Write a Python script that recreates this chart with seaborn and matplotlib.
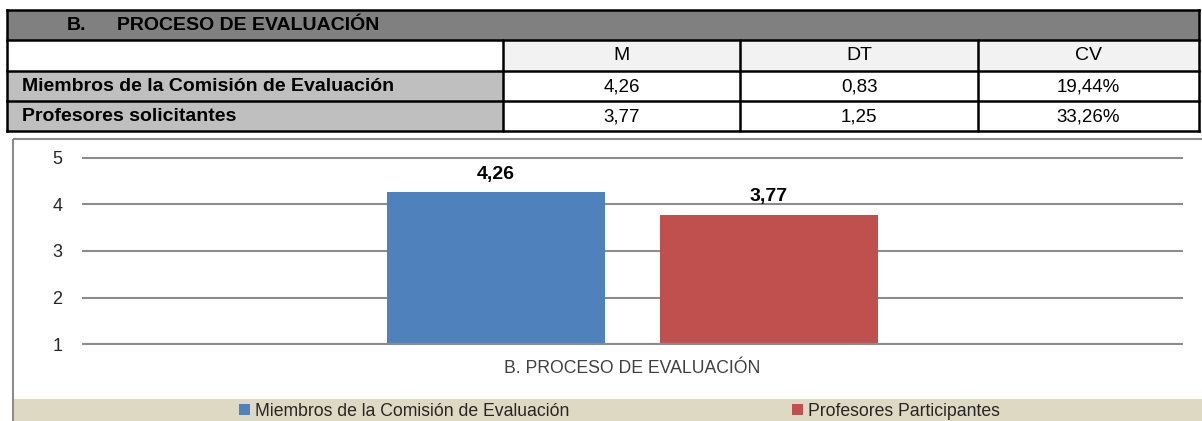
import matplotlib
matplotlib.use("Agg")
import matplotlib.pyplot as plt
from matplotlib import font_manager
from matplotlib.patches import Rectangle
import seaborn as sns
import pandas as pd

# ---------------- data ----------------
category = ["B. PROCESO DE EVALUACIÓN"]
series = ["Miembros de la Comisión de Evaluación", "Profesores Participantes"]
mean_vals = [4.26, 3.77]
y_ticks = [1, 2, 3, 4, 5]

table_title_letter = "B."
table_title = "PROCESO DE EVALUACIÓN"
table_cols = ["M", "DT", "CV"]
table_rows = ["Miembros de la Comisión de Evaluación", "Profesores solicitantes"]
table_M = [4.26, 3.77]
table_DT = [0.83, 1.25]
table_CV = [19.44, 33.26]

BLUE, RED = "#4f81bd", "#c0504d"
GRID = "#8c8c8c"

sns.set_theme(style="white")
names = {f.name for f in font_manager.fontManager.ttflist}
narrow = "Liberation Sans Narrow" if "Liberation Sans Narrow" in names else "Liberation Sans"
plt.rcParams["font.family"] = [narrow, "DejaVu Sans"]

W, H = 1202, 421
fig = plt.figure(figsize=(W / 100, H / 100), dpi=100)
fig.patch.set_facecolor("white")

bg = fig.add_axes([0, 0, 1, 1])
bg.set_xlim(0, W)
bg.set_ylim(H, 0)
bg.axis("off")


def fx(px):
    return px / W


def fy(py):
    return 1 - py / H


def fmt(v, dec=2):
    return f"{v:.{dec}f}".replace(".", ",")


# ---------------- table ----------------
xs = [7, 503, 740, 978, 1199]
ys = [10, 40, 71, 101, 131]
bg.add_patch(Rectangle((xs[0], ys[0]), xs[-1] - xs[0], ys[1] - ys[0], fc="#808080", ec="none"))
for j in range(1, 4):
    bg.add_patch(Rectangle((xs[j], ys[1]), xs[j + 1] - xs[j], ys[2] - ys[1], fc="#f2f2f2", ec="none"))
for i in range(2):
    bg.add_patch(Rectangle((xs[0], ys[2 + i]), xs[1] - xs[0], ys[3 + i] - ys[2 + i], fc="#bfbfbf", ec="none"))
for y in ys:
    bg.plot([xs[0], xs[-1]], [y, y], color="black", lw=1.8, solid_capstyle="projecting")
for x in (xs[0], xs[-1]):
    bg.plot([x, x], [ys[0], ys[-1]], color="black", lw=1.8, solid_capstyle="projecting")
for x in xs[1:-1]:
    bg.plot([x, x], [ys[1], ys[-1]], color="black", lw=1.8)

hy = (ys[0] + ys[1]) / 2 + 0.5
bg.text(67, hy, table_title_letter, fontsize=14, fontweight="bold", va="center", ha="left", color="black")
bg.text(117, hy, table_title, fontsize=14, fontweight="bold", va="center", ha="left", color="black")
cy = (ys[1] + ys[2]) / 2 + 0.5
for j, c in enumerate(table_cols):
    bg.text((xs[j + 1] + xs[j + 2]) / 2, cy, c, fontsize=14, va="center", ha="center", color="black")
for i, r in enumerate(table_rows):
    ry = (ys[2 + i] + ys[3 + i]) / 2 + 0.5
    bg.text(22, ry, r, fontsize=14, fontweight="bold", va="center", ha="left", color="black")
    vals = [fmt(table_M[i]), fmt(table_DT[i]), fmt(table_CV[i]) + "%"]
    for j, v in enumerate(vals):
        bg.text((xs[j + 1] + xs[j + 2]) / 2, ry, v, fontsize=13.5, va="center", ha="center", color="black")

# ---------------- chart frame & legend band ----------------
bg.add_patch(Rectangle((14, 399), 1250, 40, fc="#ddd9c3", ec="none", zorder=1))
bg.add_patch(Rectangle((13, 139), 1250, 400, fill=False, ec=GRID, lw=1.5, zorder=2, clip_on=False))

# ---------------- bar chart ----------------
ax = fig.add_axes([fx(82), fy(345), fx(1183) - fx(82), (345 - 157) / H])
ax.set_facecolor("none")
df = pd.DataFrame({"cat": category * len(series), "serie": series, "val": mean_vals})
sns.barplot(data=df, x="cat", y="val", hue="serie", hue_order=series,
            palette=[BLUE, RED], width=0.496, gap=0.2, saturation=1,
            linewidth=0, errorbar=None, ax=ax)
ax.set_xlim(-0.5, 0.5)
ax.set_ylim(0.98, 5.02)
ax.set_yticks(y_ticks)
ax.set_yticklabels([str(t) for t in y_ticks])
ax.yaxis.grid(True, color=GRID, lw=1.5)
ax.set_axisbelow(True)
ax.axhline(1, color=GRID, lw=1.5, zorder=5)
for s in ax.spines.values():
    s.set_visible(False)
ax.tick_params(axis="y", length=0, pad=14, labelsize=13, labelcolor="#262626")
ax.tick_params(axis="x", length=0, pad=11, labelsize=12.7, labelcolor="#404040")
ax.set_xlabel("")
ax.set_ylabel("")

for cont in ax.containers:
    ax.bar_label(cont, labels=[fmt(d) for d in cont.datavalues], padding=7,
                 fontsize=14, fontweight="bold", color="black")

handles, labels = ax.get_legend_handles_labels()
if ax.get_legend() is not None:
    ax.get_legend().remove()
for h, l, xpos in zip(handles, labels, [239, 792]):
    fig.legend([h], [l], loc="center left", bbox_to_anchor=(fx(xpos), fy(411)),
               frameon=False, fontsize=12.7, handlelength=0.6, handleheight=0.6,
               handletextpad=0.3, borderpad=0, borderaxespad=0,
               labelcolor="#262626")

fig.savefig("out.png", dpi=100)
